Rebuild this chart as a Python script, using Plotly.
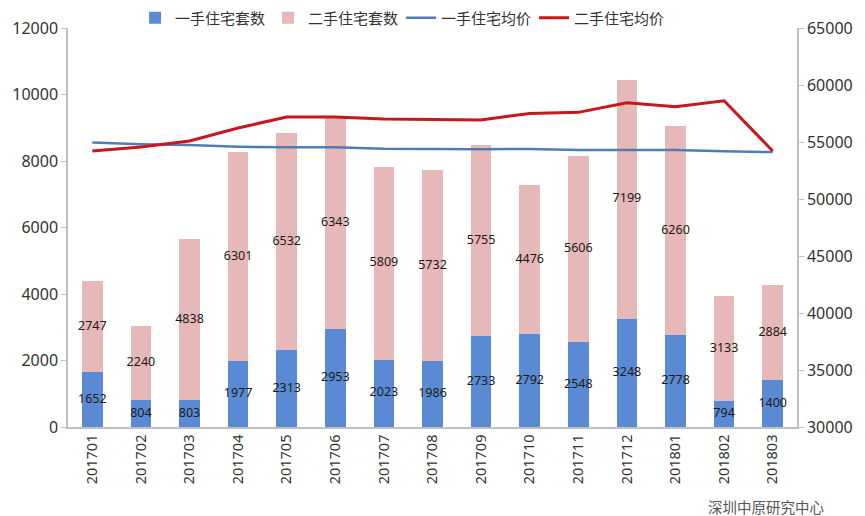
import plotly.graph_objects as go

months = ["201701", "201702", "201703", "201704", "201705", "201706", "201707", "201708",
          "201709", "201710", "201711", "201712", "201801", "201802", "201803"]
new_units = [1652, 804, 803, 1977, 2313, 2953, 2023, 1986, 2733, 2792, 2548, 3248, 2778, 794, 1400]
used_units = [2747, 2240, 4838, 6301, 6532, 6343, 5809, 5732, 5755, 4476, 5606, 7199, 6260, 3133, 2884]
new_price = [54950, 54800, 54740, 54590, 54530, 54530, 54410, 54360, 54360, 54390, 54300, 54300, 54300, 54180, 54120]
used_price = [54210, 54560, 55090, 56230, 57190, 57190, 57020, 57000, 56930, 57510, 57600, 58450, 58100, 58620, 54210]

FONT = "Noto Sans, Noto Sans CJK SC, sans-serif"
BLUE = "#5A8AD4"
PINK = "#E6B8B7"
LINE_BLUE = "#4F7DB3"
RED = "#C8161D"

fig = go.Figure()
fig.add_trace(go.Bar(x=months, y=new_units, name="一手住宅套数", marker_color=BLUE,
                     marker_line_width=0, width=0.42))
fig.add_trace(go.Bar(x=months, y=used_units, name="二手住宅套数", marker_color=PINK,
                     marker_line_width=0, width=0.42))

# data labels centred in each segment
mid_new = [v / 2 for v in new_units]
mid_used = [n + u / 2 for n, u in zip(new_units, used_units)]
fig.add_trace(go.Scatter(x=months, y=mid_new, mode="text", text=[str(v) for v in new_units],
                         textfont=dict(size=12.5, color="#1a1a1a", family=FONT),
                         showlegend=False, hoverinfo="skip"))
fig.add_trace(go.Scatter(x=months, y=mid_used, mode="text", text=[str(v) for v in used_units],
                         textfont=dict(size=12.5, color="#1a1a1a", family=FONT),
                         showlegend=False, hoverinfo="skip"))

fig.add_trace(go.Scatter(x=months, y=new_price, name="一手住宅均价", mode="lines",
                         line=dict(color=LINE_BLUE, width=2.5), yaxis="y2"))
fig.add_trace(go.Scatter(x=months, y=used_price, name="二手住宅均价", mode="lines",
                         line=dict(color=RED, width=3), yaxis="y2"))

axis_common = dict(showline=True, linecolor="#BFBFBF", linewidth=1.5, ticks="outside",
                   tickcolor="#BFBFBF", ticklen=5, showgrid=False, zeroline=False,
                   tickformat="d",
                   tickfont=dict(size=16, color="#333333", family=FONT))

fig.update_layout(
    width=865, height=516,
    margin=dict(l=68, r=68, t=28, b=89, autoexpand=False),
    paper_bgcolor="white", plot_bgcolor="white",
    barmode="stack",
    font=dict(family=FONT),
    xaxis=dict(showline=True, linecolor="#BFBFBF", linewidth=1.5, showgrid=False,
               tickangle=-90, tickfont=dict(size=14.5, color="#333333", family=FONT),
               ticks="", range=[-0.5, 14.5]),
    yaxis=dict(range=[0, 12000], dtick=2000, **axis_common),
    yaxis2=dict(range=[30000, 65000], dtick=5000, overlaying="y", side="right", **axis_common),
    legend=dict(orientation="h", x=0.092, xanchor="left", y=1.025, yanchor="middle",
                traceorder="normal", font=dict(size=15, color="#333333", family=FONT),
                entrywidth=88, bgcolor="rgba(0,0,0,0)"),
    annotations=[dict(text="深圳中原研究中心", xref="paper", yref="paper", x=1.04, y=-0.2,
                      xanchor="right", yanchor="middle", showarrow=False,
                      font=dict(size=14.5, color="#555555", family=FONT))],
)

fig.write_html("out.html")
